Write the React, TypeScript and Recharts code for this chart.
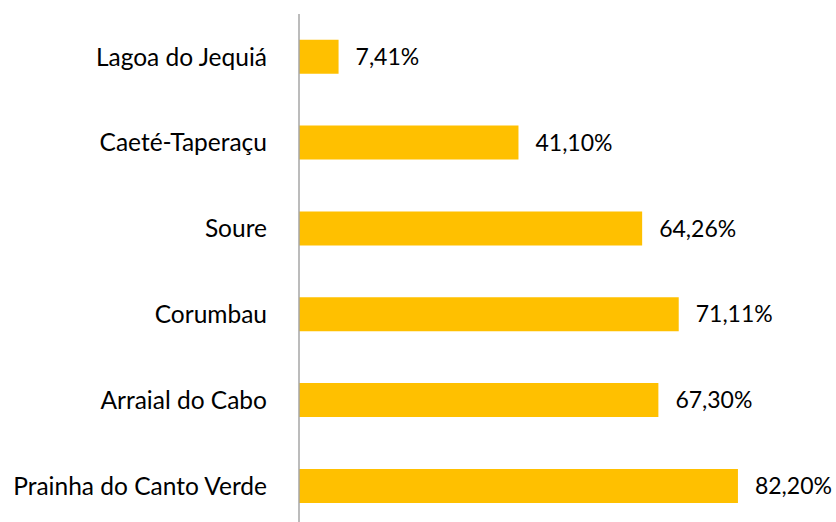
import { BarChart, Bar, XAxis, YAxis, LabelList } from 'recharts';

const sites = [
  'Lagoa do Jequiá',
  'Caeté-Taperaçu',
  'Soure',
  'Corumbau',
  'Arraial do Cabo',
  'Prainha do Canto Verde',
];
const shares = [7.41, 41.1, 64.26, 71.11, 67.3, 82.2];

const data = sites.map((name, i) => ({ name, value: shares[i] }));

const fmt = (v: any) => `${Number(v).toFixed(2).replace('.', ',')}%`;
const font = 'Lato, "Open Sans", sans-serif';

export default function App() {
  return (
    <div style={{ position: 'absolute', top: 0, left: 0, width: 836, height: 522, overflow: 'hidden', background: '#fff' }}>
      <BarChart
        width={836}
        height={530}
        data={data}
        layout="vertical"
        margin={{ top: 14, right: 3, bottom: 1, left: 0 }}
        barCategoryGap="30%"
      >
        <XAxis type="number" domain={[0, 100]} hide />
        <YAxis
          type="category"
          dataKey="name"
          width={299}
          axisLine={{ stroke: '#A6A6A6', strokeWidth: 1.5 }}
          tickLine={false}
          tickSize={6}
          tickMargin={26}
          tick={{ fill: '#000', fontSize: 24.5, fontFamily: font }}
        />
        <Bar dataKey="value" fill="#FFC000" isAnimationActive={false}>
          <LabelList
            dataKey="value"
            position="right"
            offset={17}
            formatter={fmt}
            style={{ fill: '#000', fontSize: 23, fontFamily: font }}
          />
        </Bar>
      </BarChart>
    </div>
  );
}
